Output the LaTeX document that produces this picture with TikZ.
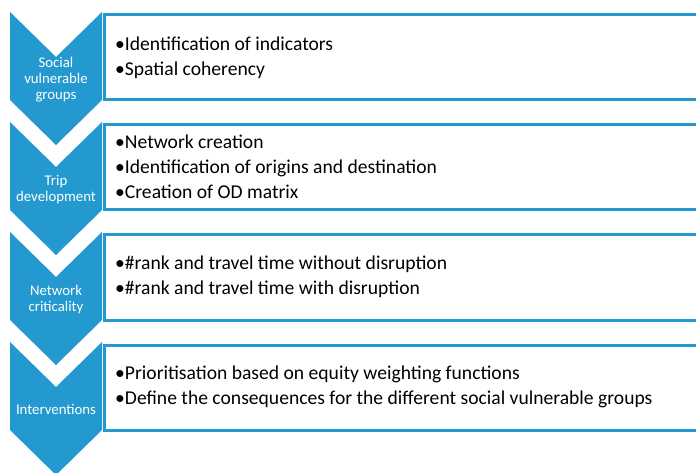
\documentclass[tikz,border=0pt]{standalone}
\usepackage{fontspec}
\setmainfont{Carlito}
\definecolor{sablue}{HTML}{2499D0}
\begin{document}
\begin{tikzpicture}[x=1pt,y=-1pt,
  chev/.style={fill=sablue,draw=none},
  chevtext/.style={text=white,font=\fontsize{14.8}{16}\selectfont,align=center,inner sep=0pt},
  boxframe/.style={draw=sablue,line width=3pt,fill=white},
  boxtext/.style={text=black,font=\fontsize{19.6}{25}\selectfont,align=left,anchor=west,inner sep=0pt}]
\useasboundingbox (0,0) rectangle (696,473);
\fill[white] (0,0) rectangle (696,473);
% chevrons
\foreach \t in {12,122,232,342}{
  \fill[chev] (10,\t) -- (56,\t+45) -- (102,\t) -- (102,\t+88) -- (56,\t+133) -- (10,\t+88) -- cycle;
  \draw[boxframe] (104.5,\t+3) rectangle (700,\t+88);
}
\node[chevtext] (c1) at (56,80) {Social\\vulnerable\\groups};
\node[chevtext] (c2) at (56,190) {Trip\\development};
\node[chevtext] (c3) at (56,300) {Network\\criticality};
\node[chevtext] (c4) at (56,409) {Interventions};
\node[boxtext] (t1) at (115,57.5) {•Identification of indicators\\•Spatial coherency};
\node[boxtext] (t2) at (115,166.5) {•Network creation\\•Identification of origins and destination\\•Creation of OD matrix};
\node[boxtext] (t3) at (115,277) {•\#rank and travel time without disruption\\•\#rank and travel time with disruption};
\node[boxtext] (t4) at (115,386.5) {•Prioritisation based on equity weighting functions\\•Define the consequences for the different social vulnerable groups};
\end{tikzpicture}
\end{document}
